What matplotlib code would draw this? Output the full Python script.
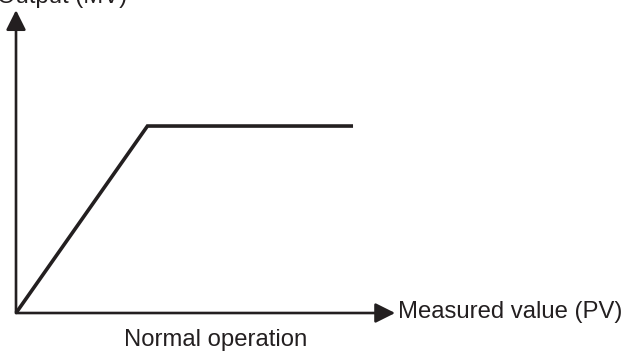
import matplotlib.pyplot as plt

# controller output vs measured value, normal operation
pv = [0, 39, 100]
mv = [0, 100, 100]
x_label = "Measured value (PV)"
y_label = "Output (MV)"
caption = "Normal operation"

ink = "#231f20"
plt.rcParams["font.family"] = ["Liberation Sans", "DejaVu Sans"]

fig = plt.figure(figsize=(6.26, 3.51), dpi=100)
ax = fig.add_axes([0, 0, 1, 1])
ax.set_xlim(-4.75, 181.0)
ax.set_ylim(-20.32, 167.4)
ax.axis("off")

# axes with arrow heads
arrow = dict(arrowstyle="-|>,head_length=12,head_width=6", mutation_scale=1,
             color=ink, lw=1.9, shrinkA=0, shrinkB=0)
ax.annotate("", xy=(112.5, 0), xytext=(0, 0), arrowprops=arrow)
ax.annotate("", xy=(0, 162.0), xytext=(0, 0), arrowprops=arrow)

ax.plot(pv, mv, color=ink, lw=2.6, solid_capstyle="butt", solid_joinstyle="miter")

ax.text(113.4, -2.7, x_label, fontsize=17.2, color=ink, ha="left", va="baseline")
ax.text(33.0, 165.6, y_label, fontsize=17.2, color=ink, ha="right", va="baseline")
ax.text(59.1, -17.6, caption, fontsize=17.2, color=ink, ha="center", va="baseline")

fig.savefig("out.png", dpi=100)
